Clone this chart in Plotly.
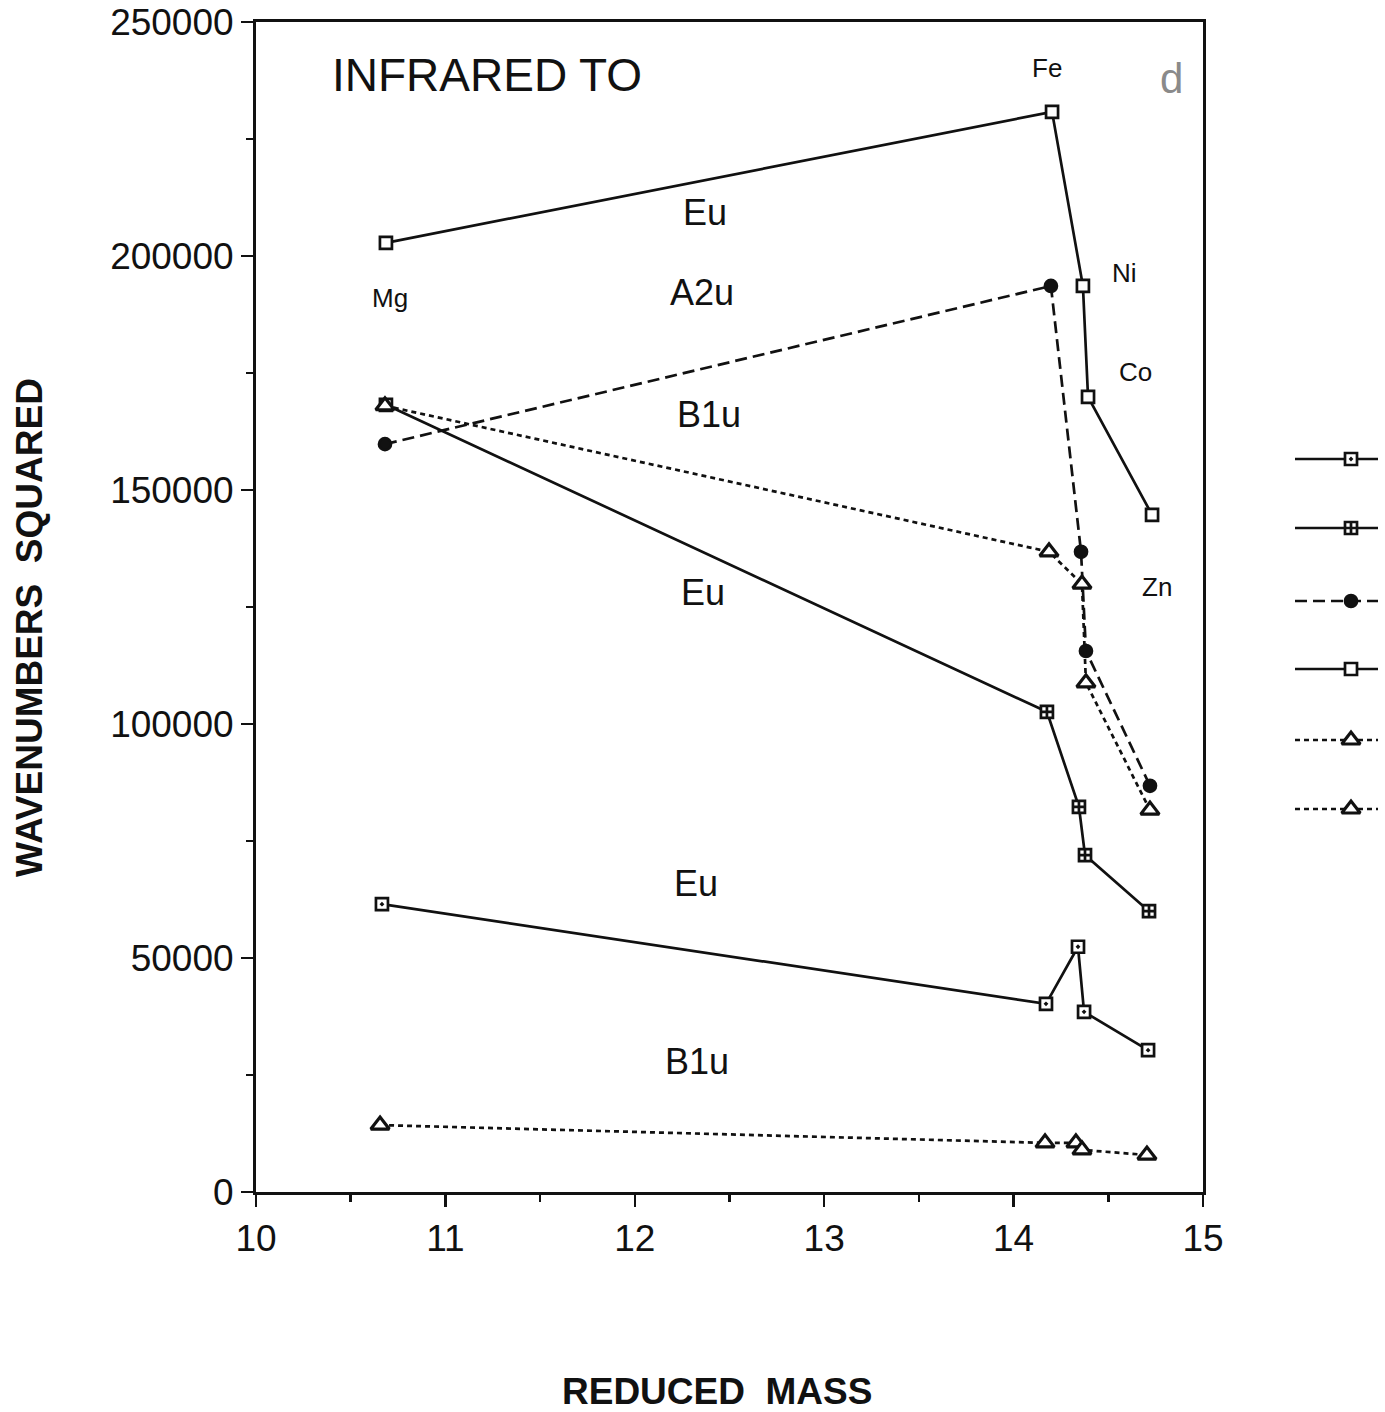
import plotly.graph_objects as go

# ---------------- data ----------------
metals = ["Mg", "Fe", "Ni", "Co", "Zn"]

# Eu (lower) - open square with dot, solid
eu_low_x = [10.665, 14.171, 14.340, 14.372, 14.710]
eu_low_y = [61500, 40200, 52400, 38500, 30300]

# Eu (middle) - crossed square, solid
eu_mid_x = [10.686, 14.176, 14.345, 14.377, 14.715]
eu_mid_y = [168200, 102600, 82300, 72000, 60000]

# A2u - filled circle, dashed
a2u_x = [10.681, 14.197, 14.356, 14.382, 14.720]
a2u_y = [159800, 193600, 136800, 115600, 86800]

# Eu (top) - open square, solid
eu_top_x = [10.686, 14.203, 14.366, 14.393, 14.731]
eu_top_y = [202800, 230800, 193600, 169900, 144700]

# B1u (upper) - open triangle, dotted
b1u_up_x = [10.681, 14.187, 14.361, 14.382, 14.720]
b1u_up_y = [168000, 136800, 129900, 108800, 81600]

# B1u (lower) - open triangle, dotted
b1u_low_x = [10.655, 14.166, 14.329, 14.361, 14.704]
b1u_low_y = [14300, 10500, 10500, 9000, 7900]

x_ticks = [10, 11, 12, 13, 14, 15]
y_ticks = [0, 50000, 100000, 150000, 200000, 250000]

FONT = "Liberation Sans"
BLACK = "#111111"
LW = 2.7

series = [
    (eu_low_x, eu_low_y, "square-dot", 12, "solid", "white", LW),
    (eu_mid_x, eu_mid_y, "square-cross", 12, "solid", "white", LW),
    (a2u_x, a2u_y, "circle", 12, "12px,6px", BLACK, LW),
    (eu_top_x, eu_top_y, "square", 12, "solid", "white", LW),
    (b1u_up_x, b1u_up_y, "triangle-up", 16, "5px,4px", "white", 3.2),
    (b1u_low_x, b1u_low_y, "triangle-up", 16, "5px,4px", "white", 3.2),
]

# ---------------- page geometry (page pixels, body margin removed) ----------------
W, H = 1385, 1412
PLOT_L, PLOT_T, PLOT_B = 256, 22, 1192
AX_R = 1203
L, T, B, R = PLOT_L, PLOT_T, H - PLOT_B, 0
pw, ph = W - L - R, H - T - B


def px(page_x):
    return (page_x - L) / pw


def py(page_y):
    return (H - B - page_y) / ph


fig = go.Figure()

for xs, ys, sym, size, dash, fill, mlw in series:
    fig.add_trace(go.Scatter(
        x=xs, y=ys, mode="lines+markers", showlegend=False,
        line=dict(color=BLACK, width=LW, dash=dash),
        marker=dict(symbol=sym, size=size, color=fill,
                    line=dict(color=BLACK, width=mlw)),
        cliponaxis=False,
    ))

# ---------------- legend samples (custom, no text) ----------------
leg_rows = [459, 528, 601, 669, 740, 809]      # page pixels
x2_lo, x2_hi = 0.88, 1.0
for (xs, ys, sym, size, dash, fill, mlw), ry in zip(series, leg_rows):
    fig.add_trace(go.Scatter(
        x=[1295, 1378], y=[ry, ry], mode="lines", showlegend=False,
        line=dict(color=BLACK, width=LW, dash=dash),
        xaxis="x2", yaxis="y2", hoverinfo="skip", cliponaxis=False,
    ))
    fig.add_trace(go.Scatter(
        x=[1351], y=[ry], mode="markers", showlegend=False,
        marker=dict(symbol=sym, size=size, color=fill,
                    line=dict(color=BLACK, width=mlw)),
        xaxis="x2", yaxis="y2", hoverinfo="skip", cliponaxis=False,
    ))


# ---------------- annotations ----------------
def ann(text, x, y, size, color=BLACK):
    fig.add_annotation(x=x, y=y, text=text, showarrow=False, xanchor="center",
                       yanchor="middle", font=dict(family=FONT, size=size, color=color))


ann("INFRARED TO", 11.217, 238700, 46)
ann("d", 14.836, 238000, 42, "#8a8a8a")
ann("Fe", 14.176, 240200, 26)
ann("Eu", 12.371, 209200, 36)
ann("Mg", 10.707, 191000, 26)
ann("A2u", 12.355, 192100, 36)
ann("Ni", 14.583, 196400, 26)
ann("Co", 14.646, 175200, 26)
ann("B1u", 12.392, 166200, 36)
ann("Eu", 12.360, 128000, 36)
ann("Zn", 14.757, 129300, 26)
ann("Eu", 12.323, 66000, 36)
ann("B1u", 12.328, 27800, 36)

fig.add_annotation(x=px(30), y=py(628), xref="paper", yref="paper", text="WAVENUMBERS  SQUARED",
                   textangle=-90, showarrow=False, xanchor="center", yanchor="middle",
                   font=dict(family=FONT, size=37, color=BLACK, weight="bold"))
fig.add_annotation(x=px(717), y=py(1391), xref="paper", yref="paper", text="REDUCED  MASS",
                   showarrow=False, xanchor="center", yanchor="middle",
                   font=dict(family=FONT, size=37, color=BLACK, weight="bold"))

main_dom = (AX_R - PLOT_L) / pw

fig.update_layout(
    width=W, height=H,
    margin=dict(l=L, r=R, t=T, b=B, autoexpand=False),
    paper_bgcolor="white", plot_bgcolor="white",
    showlegend=False,
    xaxis=dict(domain=[0, main_dom], range=[10, 15], tickvals=x_ticks,
               showgrid=False, zeroline=False, showline=True, mirror=True,
               linecolor=BLACK, linewidth=3, ticks="outside", ticklen=12, tickwidth=2.5,
               tickcolor=BLACK, ticklabeloverflow="allow",
               minor=dict(dtick=0.5, ticks="outside", ticklen=7, tickwidth=2.5, tickcolor=BLACK),
               tickfont=dict(family=FONT, size=37, color=BLACK)),
    yaxis=dict(domain=[0, 1], range=[0, 250000], tickvals=y_ticks, tickformat="d",
               showgrid=False, zeroline=False, showline=True, mirror=True,
               linecolor=BLACK, linewidth=3, ticks="outside", ticklen=12, tickwidth=2.5,
               tickcolor=BLACK, ticklabeloverflow="allow",
               minor=dict(dtick=25000, ticks="outside", ticklen=7, tickwidth=2.5, tickcolor=BLACK),
               tickfont=dict(family=FONT, size=37, color=BLACK)),
    xaxis2=dict(domain=[x2_lo, x2_hi],
                range=[L + x2_lo * pw, L + x2_hi * pw],
                visible=False, anchor="y2"),
    yaxis2=dict(domain=[0, 1], range=[T + ph, T], visible=False, anchor="x2"),
)

fig.write_html("out.html",
               config={"displayModeBar": False, "staticPlot": True},
               post_script="document.body.style.margin='0px';document.body.style.overflow='hidden';")
